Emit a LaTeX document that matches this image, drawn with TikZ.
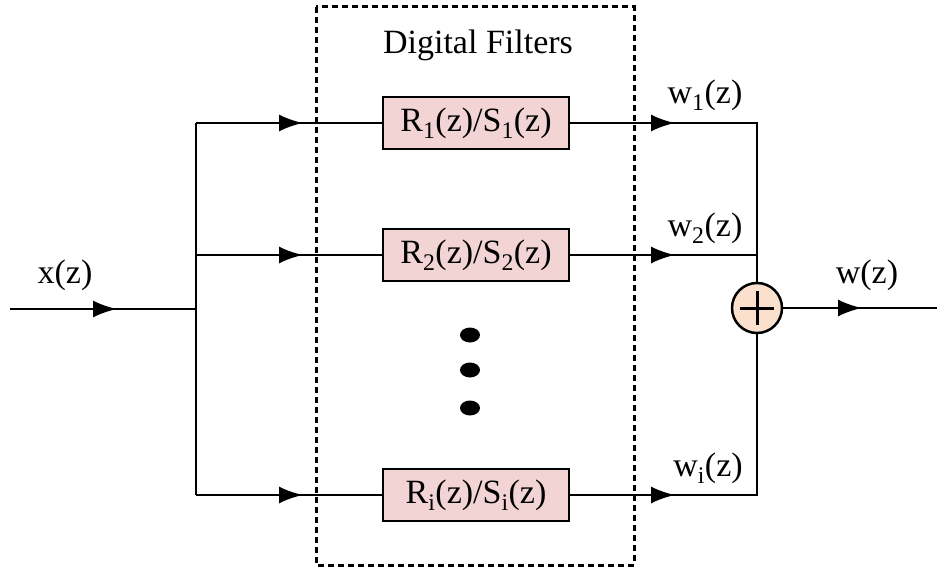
\documentclass[tikz,border=0pt]{standalone}
\usepackage{fontspec}
\setmainfont{Liberation Serif}
\usetikzlibrary{arrows.meta,shapes.geometric}
\begin{document}
\begin{tikzpicture}[x=1pt,y=-1pt,
  line width=2.5pt,
  lbl/.style={font=\fontsize{34}{40}\selectfont, inner sep=0pt},
  filt/.style={draw, fill=filtfill, minimum width=186pt, minimum height=52pt, inner sep=0pt, font=\fontsize{34}{40}\selectfont},
  summ/.style={circle, draw, fill=sumfill, minimum size=50pt, inner sep=0pt},
  dotn/.style={ellipse, fill=black, minimum width=20pt, minimum height=15pt, inner sep=0pt},
  arr/.style={-{Latex[length=24pt,width=17pt]}},
  frame/.style={dash pattern=on 6pt off 4pt, line width=3pt}]
\definecolor{filtfill}{RGB}{242,212,212}
\definecolor{sumfill}{RGB}{251,225,205}
\useasboundingbox (0,0) rectangle (937,572);
% frame
\draw[frame] (316,7) rectangle (634,565);
\node[lbl] (title) at (478,45) {Digital Filters};
% filters
\node[filt] (f1) at (476,123) {R\textsubscript{1}(z)/S\textsubscript{1}(z)};
\node[filt] (f2) at (476,255) {R\textsubscript{2}(z)/S\textsubscript{2}(z)};
\node[filt] (fi) at (476,495) {R\textsubscript{i}(z)/S\textsubscript{i}(z)};
\node[dotn] (d1) at (470,335) {};
\node[dotn] (d2) at (470,370) {};
\node[dotn] (d3) at (470,408) {};
% sum
\node[summ] (sum) at (757,308) {};
\draw[line width=3pt] ([xshift=-17pt]sum.center) -- ([xshift=17pt]sum.center);
\draw[line width=3pt] ([yshift=-17pt]sum.center) -- ([yshift=17pt]sum.center);
% coordinates
\coordinate (in) at (10,309);
\coordinate (ina) at (117,309);
\coordinate (split) at (196,309);
\coordinate (b1) at (196,123);
\coordinate (b2) at (196,255);
\coordinate (bi) at (196,495);
\coordinate (a1) at (303,123);
\coordinate (a2) at (303,255);
\coordinate (ai) at (303,495);
\coordinate (o1) at (675,123);
\coordinate (o2) at (675,255);
\coordinate (oi) at (675,495);
\coordinate (r1) at (757,123);
\coordinate (r2) at (757,255);
\coordinate (ri) at (757,495);
\coordinate (outa) at (862,308);
\coordinate (out) at (937,308);
% input
\draw (in) -- (split);
\draw[arr] (in) -- (ina);
\draw (b1) -- (bi);
\draw (b1) -- (f1.west); \draw[arr] (b1) -- (a1);
\draw (b2) -- (f2.west); \draw[arr] (b2) -- (a2);
\draw (bi) -- (fi.west); \draw[arr] (bi) -- (ai);
% outputs
\draw (f1.east) -- (r1) -- (sum.north); \draw[arr] (f1.east) -- (o1);
\draw (f2.east) -- (r2); \draw[arr] (f2.east) -- (o2);
\draw (fi.east) -- (ri) -- (sum.south); \draw[arr] (fi.east) -- (oi);
\draw (sum.east) -- (out); \draw[arr] (sum.east) -- (outa);
% labels
\node[lbl] (xl) at (65,275) {x(z)};
\node[lbl] (w1) at (705,95) {w\textsubscript{1}(z)};
\node[lbl] (w2) at (705,228) {w\textsubscript{2}(z)};
\node[lbl] (wi) at (708,468) {w\textsubscript{i}(z)};
\node[lbl] (wl) at (867,275) {w(z)};
\end{tikzpicture}
\end{document}
